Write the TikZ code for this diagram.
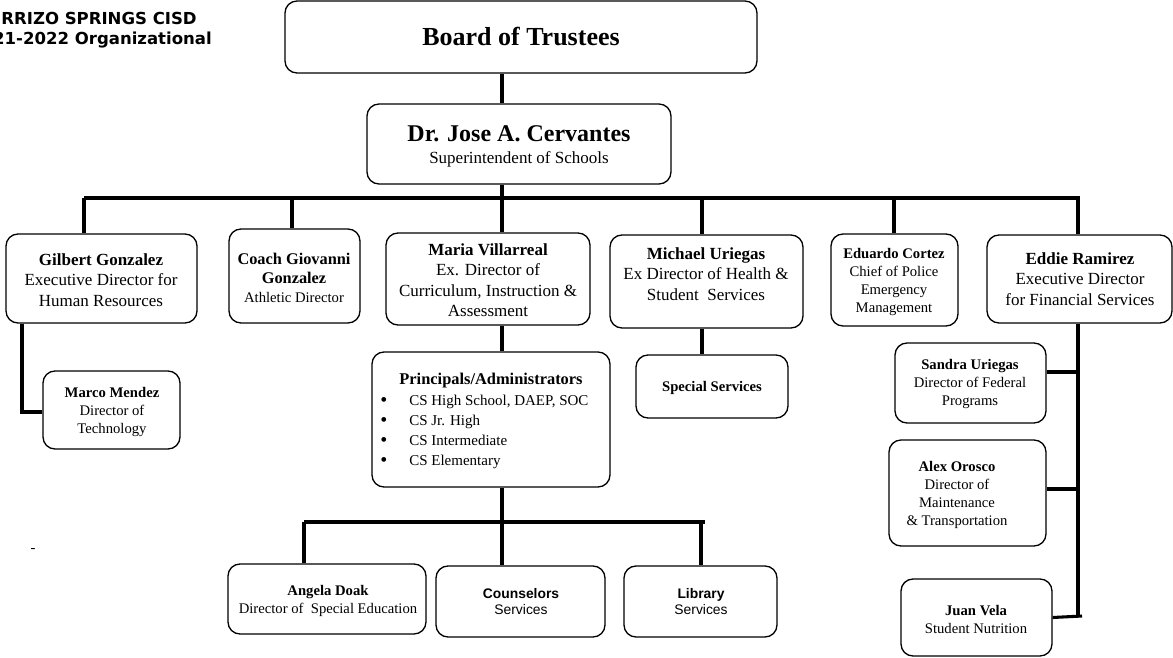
\documentclass[tikz,border=0pt]{standalone}
\usepackage{fontspec}
\setmainfont{Liberation Serif}
\newfontfamily\arialf{Liberation Sans}
\newfontfamily\verdf{DejaVu Sans}
\usetikzlibrary{fit}
\tikzset{
  box/.style={draw=black, line width=1pt, rounded corners=9pt, inner sep=0pt, fill=white},
  conn/.style={line width=2.3pt, black},
  tbig/.style={align=center, inner sep=0pt, font=\fontsize{12.75}{15.4}\selectfont},
  tsmall/.style={align=center, inner sep=0pt, font=\fontsize{11}{13.5}\selectfont},
  tarial/.style={align=center, inner sep=0pt, font=\arialf\fontsize{10.4}{12}\selectfont},
  ttitle/.style={anchor=east, inner sep=0pt, font=\verdf\bfseries\fontsize{12.4}{14}\selectfont},
}
\newcommand{\bul}{\makebox[21.75pt][l]{\raisebox{-0.5pt}{\fontsize{15}{15}\selectfont\textbullet}}}
\begin{document}
\begin{tikzpicture}[x=0.75pt,y=-0.75pt]
\useasboundingbox (0,0) rectangle (1173,657);

% title
\node[ttitle] (title1) at (197,18) {RRIZO SPRINGS CISD};
\node[ttitle] (title2) at (212,40) {21-2022 Organizational};
\node[inner sep=0pt, font=\fontsize{11}{12}\selectfont] (dash) at (33,550) {-};

% boxes
\node[box, fit={(285,1) (757,73)}] (board) {};
\node[box, fit={(367,104) (671,184)}] (cerv) {};
\node[box, fit={(6,234) (197,323)}] (gil) {};
\node[box, fit={(229,229) (360,323)}] (coach) {};
\node[box, fit={(386,233) (590,325)}] (maria) {};
\node[box, fit={(610,235) (803,328)}] (mic) {};
\node[box, fit={(831,234) (958,326)}] (edu) {};
\node[box, fit={(987,235) (1172,323)}] (eddie) {};
\node[box, fit={(43,371) (180,449)}] (marco) {};
\node[box, fit={(372,352) (610,487)}] (prin) {};
\node[box, fit={(636,355) (788,418)}] (sps) {};
\node[box, fit={(228,564) (426,634)}] (angela) {};
\node[box, fit={(436,566) (605,637)}] (couns) {};
\node[box, fit={(624,566) (777,637)}] (lib) {};
\node[box, fit={(895,343) (1046,423)}] (sandra) {};
\node[box, fit={(889,440) (1046,546)}] (alex) {};
\node[box, fit={(901,579) (1052,656)}] (juan) {};

% texts
\node[inner sep=0pt, font=\bfseries\fontsize{19.5}{22}\selectfont] (board-t) at (521,37) {Board of Trustees};
\node[align=center, inner sep=0pt, font=\fontsize{12.75}{16.5}\selectfont] (cerv-t) at (519,146)
  {{\fontsize{18}{20}\selectfont\bfseries Dr. Jose A. Cervantes}\\ Superintendent of Schools};
\node[tbig] (gil-t) at (101,280) {\textbf{Gilbert Gonzalez}\\Executive Director for\\Human Resources};
\node[align=center, inner sep=0pt, font=\fontsize{12.25}{14.3}\selectfont] (coach-t) at (294,278)
  {\textbf{Coach Giovanni}\\\textbf{Gonzalez}\\{\fontsize{11}{13}\selectfont Athletic Director}};
\node[tbig] (maria-t) at (488,280) {\textbf{Maria Villarreal}\\Ex. Director of\\Curriculum, Instruction \&\\Assessment};
\node[tbig] (mic-t) at (706,274) {\textbf{Michael Uriegas}\\Ex Director of Health \&\\Student\ \ Services};
\node[tsmall] (edu-t) at (894,282) {\textbf{Eduardo Cortez}\\Chief of Police\\Emergency\\Management};
\node[tbig] (eddie-t) at (1080,279) {\textbf{Eddie Ramirez}\\Executive Director\\for Financial Services};
\node[tsmall] (marco-t) at (112,412) {\textbf{Marco Mendez}\\Director of\\Technology};
\node[inner sep=0pt, font=\bfseries\fontsize{12.3}{14}\selectfont] (prin-t) at (491,381) {Principals/Administrators};
\node[anchor=west, align=left, inner sep=0pt, font=\fontsize{11.25}{15}\selectfont] (prin-l) at (380,432)
  {\bul CS High School, DAEP, SOC\\
   \bul CS Jr. High\\
   \bul CS Intermediate\\
   \bul CS Elementary};
\node[tsmall] (sps-t) at (712,388) {\textbf{Special Services}};
\node[tsmall] (angela-t) at (328,601) {\textbf{Angela Doak}\\Director of\ \ Special Education};
\node[tarial] (couns-t) at (521,602) {\textbf{Counselors}\\Services};
\node[tarial] (lib-t) at (701,602) {\textbf{Library}\\Services};
\node[tsmall] (sandra-t) at (970,384) {\textbf{Sandra Uriegas}\\Director of Federal\\Programs};
\node[tsmall] (alex-t) at (957,495) {\textbf{Alex Orosco}\\Director of\\Maintenance\\\& Transportation};
\node[tsmall] (juan-t) at (976,619) {\textbf{Juan Vela}\\Student Nutrition};

% connector coordinates
\coordinate (b0) at (84,198);
\coordinate (b1) at (292,198);
\coordinate (b2) at (502,198);
\coordinate (b3) at (702,198);
\coordinate (b4) at (894,198);
\coordinate (b5) at (1078,198);
\coordinate (b6) at (1080,198);
\coordinate (m1) at (22,412);
\coordinate (p0) at (304,522);
\coordinate (p1) at (502,522);
\coordinate (p2) at (701,522);
\coordinate (p3) at (705,522);
\coordinate (s1) at (1078,372);
\coordinate (a1) at (1078,489);
\coordinate (e1) at (1078,616);
\coordinate (e2) at (1082,616);

% connectors
\draw[conn] (board.south -| b2) -- (cerv.north -| b2);
\draw[conn] (cerv.south -| b2) -- (maria.north -| b2);
\draw[conn] (b0) -- (b6);
\draw[conn] (b0) -- (gil.north -| b0);
\draw[conn] (b1) -- (coach.north -| b1);
\draw[conn] (b3) -- (mic.north -| b3);
\draw[conn] (b4) -- (edu.north -| b4);
\draw[conn] (b5) -- (eddie.north -| b5);
\draw[conn] (gil.south -| m1) -- (m1) -- (m1 -| marco.west);
\draw[conn] (maria.south -| b2) -- (prin.north -| b2);
\draw[conn] (mic.south -| b3) -- (sps.north -| b3);
\draw[conn] (prin.south -| p1) -- (p1);
\draw[conn] (p0) -- (p3);
\draw[conn] (p0) -- (angela.north -| p0);
\draw[conn] (p1) -- (couns.north -| p1);
\draw[conn] (p2) -- (lib.north -| p2);
\draw[conn] (eddie.south -| e1) -- (e1);
\draw[conn] (s1 -| sandra.east) -- (s1);
\draw[conn] (a1 -| alex.east) -- (a1);
\draw[conn] (juan.east) -- (e2);
\end{tikzpicture}
\end{document}
